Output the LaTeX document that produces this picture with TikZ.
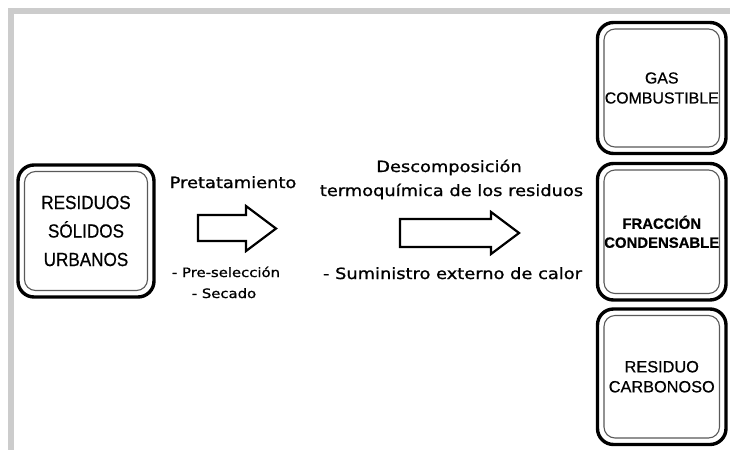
\documentclass[tikz,border=0pt]{standalone}
\usepackage{fontspec}
\setmainfont{Liberation Sans}[FakeBold=0.6]
\newfontfamily\boxfont[FakeBold=0.6]{Liberation Sans}
\newfontfamily\rsufont[FakeStretch=0.9,FakeBold=0.6]{Liberation Sans}
\newfontfamily\labelfont[FakeStretch=1.15,FakeBold=1.0]{DejaVu Sans}
\definecolor{framegray}{HTML}{CCCCCC}
\tikzset{
  outerbox/.style={draw=black, line width=3.4pt, rounded corners=16pt, fill=white,
    inner sep=0pt, outer sep=0pt, align=center},
  innerline/.style={draw=black!65, line width=1.1pt, rounded corners=11pt},
  lbl/.style={font=\labelfont\fontsize{15.5}{18}\selectfont, inner sep=0pt, anchor=base},
  sublbl/.style={font=\labelfont\fontsize{12.9}{15}\selectfont, inner sep=0pt, anchor=base},
  bigarrow/.style={draw=black, line width=2.2pt, fill=white, line join=miter},
}
\begin{document}
\begin{tikzpicture}[x=1pt,y=-1pt]
\useasboundingbox (0,0) rectangle (730,450);
\fill[white] (0,0) rectangle (730,450);
% gray frame
\fill[framegray] (8,8) rectangle (14,450);
\fill[framegray] (8,8) rectangle (730,14);

% boxes
\node[outerbox, minimum width=136pt, minimum height=132pt,
      font=\rsufont\fontsize{19}{28.5}\selectfont] (rsu) at (86,231) {RESIDUOS\\SÓLIDOS\\URBANOS};
\node[outerbox, minimum width=128.5pt, minimum height=131pt,
      font=\boxfont\fontsize{15.9}{20}\selectfont] (gas) at (661.75,88) {GAS\\COMBUSTIBLE};
\node[outerbox, minimum width=128.5pt, minimum height=136.5pt,
      font=\boxfont\bfseries\fontsize{14.9}{19}\selectfont] (frac) at (661.75,231.75) {FRACCIÓN\\CONDENSABLE};
\node[outerbox, minimum width=128.5pt, minimum height=135.5pt,
      font=\boxfont\fontsize{16.3}{20}\selectfont] (res) at (661.75,376.75) {RESIDUO\\CARBONOSO};

\foreach \b in {rsu,gas,frac,res}
  \draw[innerline] ([xshift=6.5pt,yshift=-6.5pt]\b.north west) rectangle ([xshift=-6.5pt,yshift=6.5pt]\b.south east);

% labels
\node[lbl] (pre) at (233,188) {Pretatamiento};
\node[sublbl] (presel) at (226,277) {- Pre-selección};
\node[sublbl] (sec) at (224,298) {- Secado};
\node[lbl] (desc) at (449,172) {Descomposición};
\node[lbl] (termo) at (451.5,196) {termoquímica de los residuos};
\node[lbl] (sum) at (452.5,279) {- Suministro externo de calor};

% block arrows
\draw[bigarrow] (198,215) -- (246,215) -- (246,206) -- (276,228.5) -- (246,251) -- (246,241) -- (198,241) -- cycle;
\draw[bigarrow] (400,219) -- (491,219) -- (491,212) -- (519,233) -- (491,254) -- (491,247) -- (400,247) -- cycle;
\end{tikzpicture}
\end{document}
